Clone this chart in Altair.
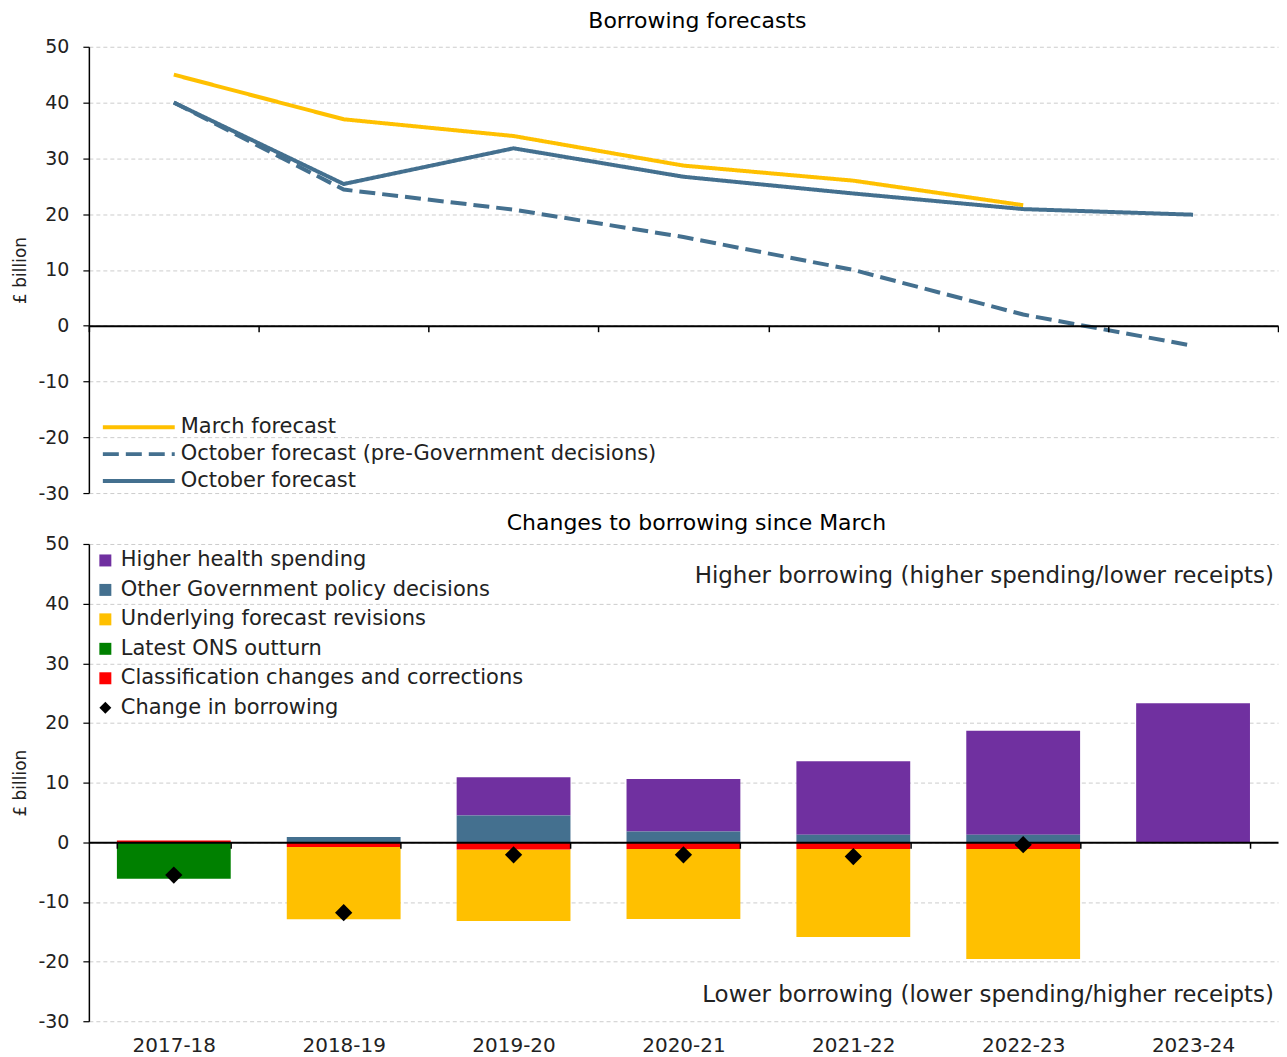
import altair as alt
import pandas as pd

# ---------------- data ----------------
years = ["2017-18", "2018-19", "2019-20", "2020-21", "2021-22", "2022-23", "2023-24"]

line_series = ["March forecast", "October forecast (pre-Government decisions)", "October forecast"]
march = [45.0, 37.0, 34.0, 28.7, 26.0, 21.6]          # no 2023-24 value
oct_pre = [40.0, 24.4, 20.8, 15.9, 10.0, 2.0, -3.6]
oct_final = [40.0, 25.4, 31.8, 26.7, 23.7, 20.9, 19.9]

comp_names = ["Higher health spending", "Other Government policy decisions",
              "Underlying forecast revisions", "Latest ONS outturn",
              "Classification changes and corrections"]
health = [0.0, 0.0, 6.4, 8.8, 12.35, 17.45, 23.3]
other_policy = [0.0, 0.9, 4.5, 1.8, 1.25, 1.25, 0.0]
underlying = [0.0, -12.1, -12.0, -11.7, -14.75, -18.4, 0.0]
ons = [-6.1, 0.0, 0.0, 0.0, 0.0, 0.0, 0.0]
classification = [0.3, -0.8, -1.2, -1.15, -1.15, -1.15, 0.0]
change_name = "Change in borrowing"
change = [-5.5, -11.8, -2.1, -2.1, -2.4, -0.4, None]

annotations = ["Higher borrowing (higher spending/lower receipts)",
               "Lower borrowing (lower spending/higher receipts)"]
annotation_y = [44.7, -25.6]

# ---------------- styling ----------------
FONT = "DejaVu Sans"
W = 1191
H1 = 447
H2 = 478
YELLOW = "#FFC000"
BLUE = "#44708F"
PURPLE = "#7030A0"
GREEN = "#008000"
RED = "#FF0000"

y_vals = list(range(-30, 51, 10))


def y_axis():
    return alt.Axis(title="£ billion", values=y_vals, grid=True, gridColor="#cccccc",
                    gridDash=[4, 3], gridWidth=1, domainColor="black", domainWidth=1.5,
                    tickColor="black", tickSize=6, tickWidth=1.2, labelFontSize=19,
                    labelPadding=14, labelColor="#222222", titleFontSize=17,
                    labelExpr="replace(datum.label, '\u2212', '-')",
                    titleFontWeight="normal", titleColor="#222222", titlePadding=8)


y_scale = alt.Scale(domain=[-30, 50], nice=False, zero=False)

# ---------------- top chart ----------------
rows = []
for name, vals in zip(line_series, [march, oct_pre, oct_final]):
    for yr, v in zip(years, vals):
        rows.append({"year": yr, "forecast": name, "value": v})
top_df = pd.DataFrame(rows)

top_legend = alt.Legend(orient="none", legendX=36, legendY=367, title=None,
                        symbolType="M-3,0L3,0", symbolSize=576, symbolStrokeWidth=4,
                        labelFontSize=21, labelColor="#222222", labelOffset=28,
                        rowPadding=3, padding=0, labelLimit=800)

top = alt.Chart(top_df).mark_line(strokeWidth=4).encode(
    x=alt.X("year:N", sort=years,
            scale=alt.Scale(type="band", domain=years, paddingInner=0, paddingOuter=0),
            bandPosition=0.5,
            axis=alt.Axis(title=None, labels=False, domainColor="black", domainWidth=2,
                          ticks=True, tickColor="black", tickSize=6, tickWidth=1.5,
                          tickBand="extent", offset=-H1 * 30 / 80, grid=False, zindex=1)),
    y=alt.Y("value:Q", scale=y_scale, axis=y_axis()),
    color=alt.Color("forecast:N", scale=alt.Scale(domain=line_series, range=[YELLOW, BLUE, BLUE]),
                    legend=top_legend),
    strokeDash=alt.StrokeDash("forecast:N",
                              scale=alt.Scale(domain=line_series, range=[[1, 0], [16, 7], [1, 0]]),
                              legend=top_legend),
).properties(
    width=W, height=H1,
    title=alt.TitleParams("Borrowing forecasts", fontSize=22, fontWeight="normal",
                          color="black", anchor="middle", dx=14, offset=5, font=FONT),
)

# ---------------- bottom chart ----------------
rank = {"Classification changes and corrections": 0, "Other Government policy decisions": 1,
        "Higher health spending": 2, "Underlying forecast revisions": 3, "Latest ONS outturn": 4}
brows = []
for name, vals in zip(comp_names, [health, other_policy, underlying, ons, classification]):
    for yr, v in zip(years, vals):
        if v != 0:
            brows.append({"year": yr, "component": name, "value": v, "rank": rank[name]})
bar_df = pd.DataFrame(brows)

pt_df = pd.DataFrame([{"year": yr, "component": change_name, "value": v}
                      for yr, v in zip(years, change) if v is not None])
ann_df = pd.DataFrame({"label": annotations, "value": annotation_y})

all_series = comp_names + [change_name]
color_scale = alt.Scale(domain=all_series, range=[PURPLE, BLUE, YELLOW, GREEN, RED, "black"])
shape_scale = alt.Scale(domain=all_series,
                        range=["square", "square", "square", "square", "square", "diamond"])

bot_legend = alt.Legend(orient="none", legendX=6, legendY=6, title=None,
                        symbolSize=144, symbolStrokeWidth=0, symbolOpacity=1,
                        labelFontSize=21, labelColor="#222222", labelOffset=5,
                        rowPadding=7.5, padding=0, labelLimit=800)

x_bot = alt.X("year:N", sort=years,
              scale=alt.Scale(type="band", domain=years, paddingInner=0.33, paddingOuter=0.165),
              axis=alt.Axis(title=None, labels=True, labelFontSize=20, labelColor="#222222",
                            labelPadding=H2 + 14 - H2 * 50 / 80 - 6, labelAngle=0,
                            domainColor="black", domainWidth=2, ticks=True, tickColor="black",
                            tickSize=6, tickWidth=1.5, tickBand="extent",
                            offset=-H2 * 30 / 80, grid=False, zindex=1))

bars = alt.Chart(bar_df).mark_bar().encode(
    x=x_bot,
    y=alt.Y("value:Q", stack="zero", scale=y_scale, axis=y_axis()),
    color=alt.Color("component:N", scale=color_scale, legend=bot_legend),
    order=alt.Order("rank:Q", sort="ascending"),
)

points = alt.Chart(pt_df).mark_point(filled=True, size=300, opacity=1).encode(
    x=x_bot,
    y=alt.Y("value:Q", scale=y_scale, axis=y_axis()),
    color=alt.Color("component:N", scale=color_scale, legend=bot_legend),
    shape=alt.Shape("component:N", scale=shape_scale, legend=bot_legend),
)

texts = alt.Chart(ann_df).mark_text(align="right", baseline="middle", fontSize=23,
                                    color="#222222", font=FONT).encode(
    x=alt.value(W - 4),
    y=alt.Y("value:Q", scale=y_scale, axis=y_axis()),
    text="label:N",
)

bottom = alt.layer(bars, points, texts).properties(
    width=W, height=H2,
    title=alt.TitleParams("Changes to borrowing since March", fontSize=22, fontWeight="normal",
                          color="black", anchor="middle", dx=13, offset=0, font=FONT),
)

chart = alt.vconcat(top, bottom, spacing=9).resolve_scale(
    color="independent", strokeDash="independent", shape="independent"
).resolve_legend(
    color="independent", strokeDash="independent", shape="independent"
).properties(
    padding={"left": 3, "top": 1, "right": 0, "bottom": 0}
).configure(font=FONT).configure_view(stroke=None)

chart.save("out.html", embed_options={"renderer": "svg", "actions": False})
